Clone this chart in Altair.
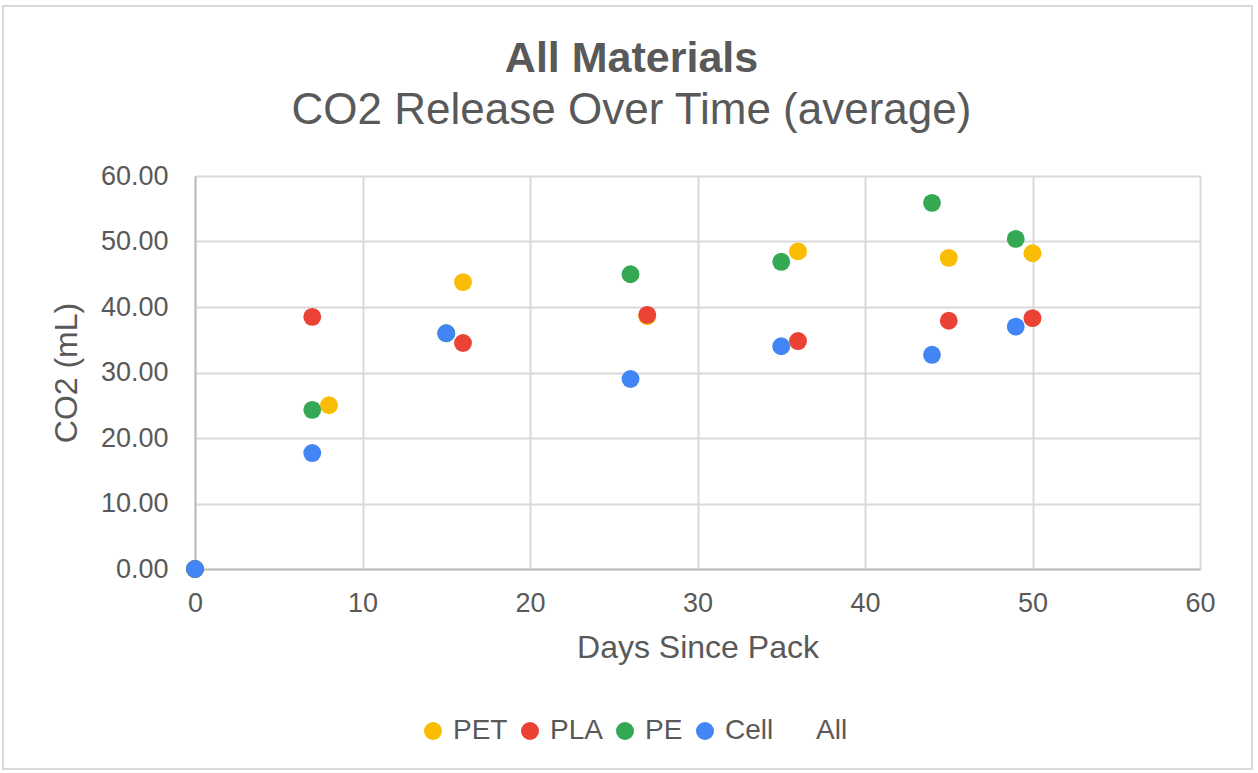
import altair as alt
import pandas as pd

days_pet = [0, 8, 16, 27, 36, 45, 50]
co2_pet = [0.0, 25.0, 43.8, 38.6, 48.5, 47.5, 48.2]
days_pla = [0, 7, 16, 27, 36, 45, 50]
co2_pla = [0.0, 38.5, 34.5, 38.8, 34.8, 37.9, 38.3]
days_pe = [0, 7, 15, 26, 35, 44, 49]
co2_pe = [0.0, 24.3, 36.0, 45.0, 46.9, 55.9, 50.4]
days_cell = [0, 7, 15, 26, 35, 44, 49]
co2_cell = [0.0, 17.7, 36.0, 29.0, 34.0, 32.7, 37.0]

series = ["PET", "PLA", "PE", "Cell", "All"]
colors = ["#FBBC04", "#EA4335", "#34A853", "#4285F4", "transparent"]

rows = []
for name, dd, vv in [("PET", days_pet, co2_pet), ("PLA", days_pla, co2_pla),
                     ("PE", days_pe, co2_pe), ("Cell", days_cell, co2_cell)]:
    for d, v in zip(dd, vv):
        rows.append({"Days": d, "CO2": v, "Material": name})
df = pd.DataFrame(rows)
df["order"] = df["Material"].map({s: i for i, s in enumerate(series)})

FONT = "Liberation Sans"
GREY = "#595959"

W, H = 1005, 393

points = alt.Chart(df).mark_circle(size=320, opacity=1).encode(
    x=alt.X("Days:Q", scale=alt.Scale(domain=[0, 60], nice=False),
            axis=alt.Axis(values=[0, 10, 20, 30, 40, 50, 60], title="Days Since Pack",
                          labelFontSize=27, titleFontSize=32, labelColor=GREY, titleColor=GREY,
                          labelFont=FONT, titleFont=FONT, titleFontWeight="normal",
                          ticks=False, labelPadding=21, titlePadding=16, labelFlush=False,
                          domainColor="#bdbdbd", domainWidth=2,
                          gridColor="#d9d9d9", gridWidth=2)),
    y=alt.Y("CO2:Q", scale=alt.Scale(domain=[0, 60], nice=False),
            axis=alt.Axis(values=[0, 10, 20, 30, 40, 50, 60], format=".2f", title="CO2 (mL)",
                          labelFontSize=27, titleFontSize=32, labelColor=GREY, titleColor=GREY,
                          labelFont=FONT, titleFont=FONT, titleFontWeight="normal",
                          ticks=False, labelPadding=27, titlePadding=17, labelFlush=False,
                          domainColor="#bdbdbd", domainWidth=2,
                          gridColor="#d9d9d9", gridWidth=2)),
    color=alt.Color("Material:N", scale=alt.Scale(domain=series, range=colors),
                    legend=alt.Legend(orient="none", direction="horizontal", title=None,
                                      legendX=224, legendY=541,
                                      labelFontSize=28, labelColor=GREY, labelFont=FONT,
                                      symbolType="circle", symbolSize=324, symbolStrokeWidth=0,
                                      columnPadding=8, labelOffset=6)),
    order=alt.Order("order:Q"),
)

frame = alt.Chart(pd.DataFrame({"a": [0]})).mark_rect(
    fill="transparent", stroke="#d9d9d9", strokeWidth=2
).encode(x=alt.value(-192), x2=alt.value(W + 52), y=alt.value(-170), y2=alt.value(H + 200))

chart = alt.layer(frame, points).properties(
    width=W, height=H,
    title=alt.TitleParams(text="All Materials", subtitle="CO2 Release Over Time (average)",
                          fontSize=43, subtitleFontSize=44, font=FONT, subtitleFont=FONT,
                          fontWeight="bold", color=GREY, subtitleColor=GREY,
                          anchor="middle", dx=-66, offset=-128, subtitlePadding=8),
    autosize=alt.AutoSizeParams(type="none"),
    padding={"left": 195, "top": 176, "right": 58, "bottom": 204},
).configure_view(stroke=None).configure(background="white")

chart.save("out.html", embed_options={"renderer": "svg", "actions": False})
